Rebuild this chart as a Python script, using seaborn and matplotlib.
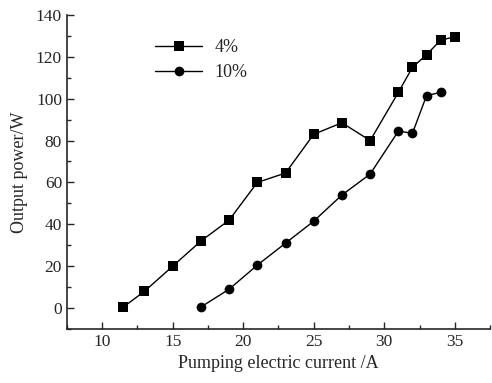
import matplotlib
matplotlib.use("Agg")
import matplotlib.pyplot as plt
import seaborn as sns
import pandas as pd
from matplotlib.ticker import MultipleLocator

# data
current_4 = [11.5, 13, 15, 17, 19, 21, 23, 25, 27, 29, 31, 32, 33, 34, 35]
power_4 = [0.5, 8, 20, 32, 42, 60, 64.5, 83, 88.5, 80, 103, 115, 121, 128, 129.5]
current_10 = [17, 19, 21, 23, 25, 27, 29, 31, 32, 33, 34]
power_10 = [0.5, 9, 20.5, 31, 41.5, 54, 64, 84.5, 83.5, 101.5, 103]
labels = ["4%", "10%"]

df = pd.concat([
    pd.DataFrame({"current": current_4, "power": power_4, "series": labels[0]}),
    pd.DataFrame({"current": current_10, "power": power_10, "series": labels[1]}),
])

sns.set_style("ticks")
plt.rcParams["font.family"] = ["Liberation Serif", "DejaVu Serif"]

fig = plt.figure(figsize=(4.92, 3.83), dpi=100)
ax = fig.add_axes([0.136, 0.141, 0.860, 0.820])

sns.lineplot(data=df, x="current", y="power", hue="series", style="series",
             markers={"4%": "s", "10%": "o"}, dashes=False,
             palette={"4%": "black", "10%": "black"},
             markersize=7, linewidth=1, markeredgewidth=0, ax=ax)

ax.set_xlim(7.5, 37.5)
ax.set_ylim(-10, 140)
ax.xaxis.set_major_locator(MultipleLocator(5))
ax.xaxis.set_minor_locator(MultipleLocator(2.5))
ax.yaxis.set_major_locator(MultipleLocator(20))
ax.yaxis.set_minor_locator(MultipleLocator(10))
ax.tick_params(which="both", direction="in", labelsize=12.5, width=1)
ax.tick_params(which="major", length=5)
ax.tick_params(which="minor", length=3)
sns.despine(ax=ax)
for s in ["left", "bottom"]:
    ax.spines[s].set_linewidth(1.2)

ax.set_xlabel("Pumping electric current /A", fontsize=13)
ax.set_ylabel("Output power/W", fontsize=13, labelpad=6)

leg = ax.legend(loc="upper left", bbox_to_anchor=(0.17, 0.975), frameon=False,
                fontsize=13, handlelength=2.6, handletextpad=0.7, labelspacing=0.45)
leg.set_title(None)
for h in leg.legend_handles:
    h.set_markersize(7)
    h.set_markeredgewidth(0)

fig.savefig("out.png", dpi=100)
